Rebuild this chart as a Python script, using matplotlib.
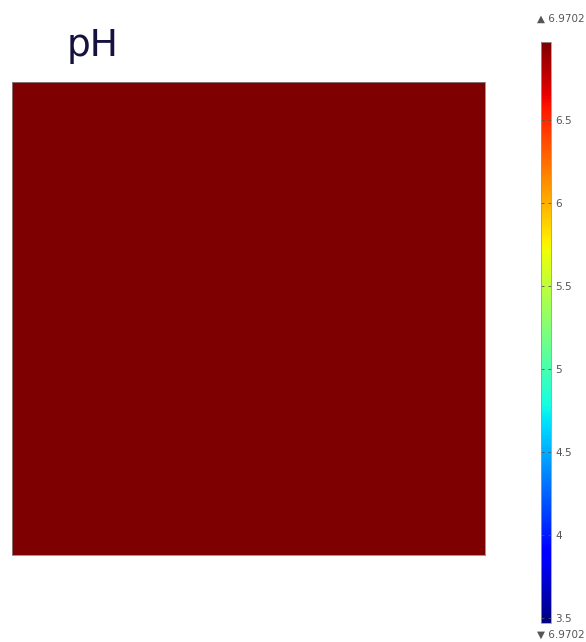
import numpy as np
import matplotlib.pyplot as plt
from matplotlib.colors import Normalize

# uniform pH field over the square domain
ph_field = [[6.9702, 6.9702], [6.9702, 6.9702]]
ph_min = 6.9702
ph_max = 6.9702
cbar_lo = 3.47
cbar_hi = 6.9702
cbar_ticks = [3.5, 4, 4.5, 5, 5.5, 6, 6.5]

fig = plt.figure(figsize=(5.86, 6.42), dpi=100)
W, H = 586, 642

ax = fig.add_axes([12 / W, 1 - 555 / H, 473 / W, 473 / H])
norm = Normalize(vmin=cbar_lo, vmax=cbar_hi)
im = ax.imshow(np.array(ph_field), cmap='jet', norm=norm, aspect='auto',
               interpolation='nearest')
ax.set_xticks([])
ax.set_yticks([])
for s in ax.spines.values():
    s.set_color('#888888')
    s.set_linewidth(0.6)

fig.text(67 / W, 1 - 46 / H, 'pH', fontsize=27, color='#15123f',
         va='center', ha='left')

cax = fig.add_axes([541 / W, 1 - 623 / H, 10 / W, 581 / H])
cb = fig.colorbar(im, cax=cax, ticks=cbar_ticks)
cb.outline.set_edgecolor('#999999')
cb.outline.set_linewidth(0.6)
cax.tick_params(axis='y', direction='in', length=2, width=0.6, color='#555555',
                labelsize=7.5, labelcolor='#555555', pad=3, left=True)
cax.set_yticklabels(['3.5', '4', '4.5', '5', '5.5', '6', '6.5'])

fig.text(537 / W, 1 - 19 / H, '\u25b2 %.4f' % ph_max, fontsize=7.5,
         color='#555555', va='center', ha='left')
fig.text(537 / W, 1 - 635 / H, '\u25bc %.4f' % ph_min, fontsize=7.5,
         color='#555555', va='center', ha='left')

fig.savefig('out.png', dpi=100)
